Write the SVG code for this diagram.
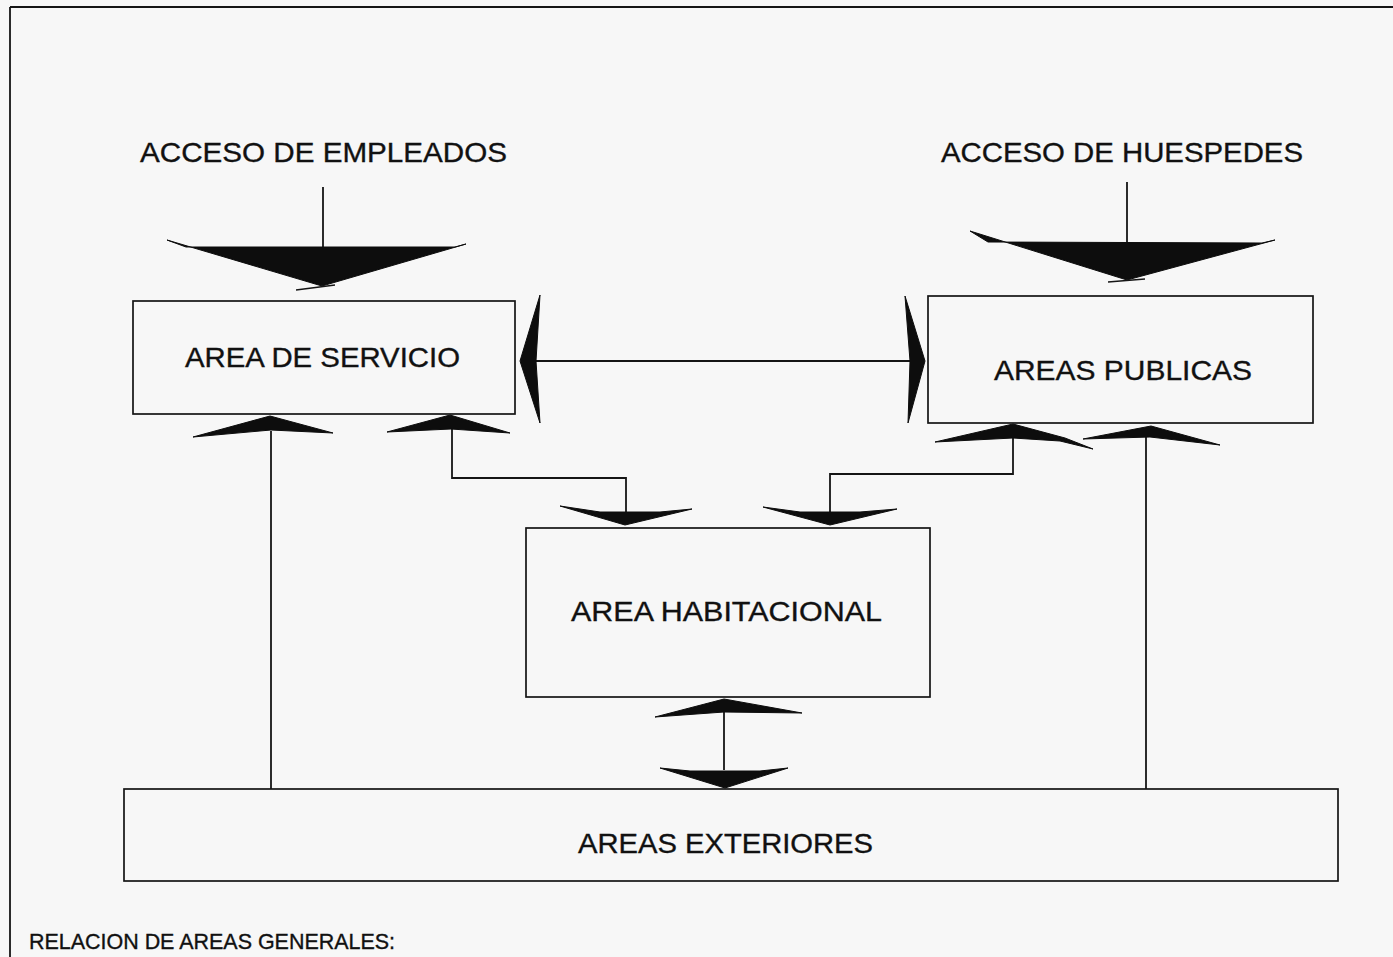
<svg xmlns="http://www.w3.org/2000/svg" width="1393" height="957" viewBox="0 0 1393 957">
  <style>
    .bg { fill: #f7f7f7; }
    .box { fill: none; stroke: #151515; stroke-width: 1.7; }
    .ln { fill: none; stroke: #151515; stroke-width: 1.8; }
    .thin { fill: none; stroke: #151515; stroke-width: 1.4; }
    .head { fill: #0d0d0d; stroke: #0d0d0d; stroke-width: 1; stroke-linejoin: miter; }
    .t { font-family: "Liberation Sans", Arial, sans-serif; fill: #111; stroke: #111; stroke-width: 0.35; }
  </style>
  <rect class="bg" x="0" y="0" width="1393" height="957"/>
  <g id="frame">
    <path class="ln" d="M10,7 H1393 M10,7 V957"/>
  </g>
  <g id="acceso-empleados">
    <text class="t" x="140" y="162" font-size="28" textLength="367" lengthAdjust="spacingAndGlyphs">ACCESO DE EMPLEADOS</text>
  </g>
  <g id="acceso-huespedes">
    <text class="t" x="941" y="162" font-size="28" textLength="362" lengthAdjust="spacingAndGlyphs">ACCESO DE HUESPEDES</text>
  </g>
  <g id="area-servicio">
    <rect class="box" x="133" y="301" width="382" height="113"/>
    <text class="t" x="185" y="367" font-size="28" textLength="275" lengthAdjust="spacingAndGlyphs">AREA DE SERVICIO</text>
  </g>
  <g id="areas-publicas">
    <rect class="box" x="928" y="296" width="385" height="127"/>
    <text class="t" x="994" y="380" font-size="28" textLength="258" lengthAdjust="spacingAndGlyphs">AREAS PUBLICAS</text>
  </g>
  <g id="area-habitacional">
    <rect class="box" x="526" y="528" width="404" height="169"/>
    <text class="t" x="571" y="621" font-size="28" textLength="311" lengthAdjust="spacingAndGlyphs">AREA HABITACIONAL</text>
  </g>
  <g id="areas-exteriores">
    <rect class="box" x="124" y="789" width="1214" height="92"/>
    <text class="t" x="578" y="853" font-size="28" textLength="295" lengthAdjust="spacingAndGlyphs">AREAS EXTERIORES</text>
  </g>
  <g id="caption">
    <text class="t" x="29" y="949" font-size="22" textLength="366" lengthAdjust="spacingAndGlyphs">RELACION DE AREAS GENERALES:</text>
  </g>
  <g id="connectors">
    <path class="ln" d="M323,187 V248"/>
    <polygon class="head" points="167,240 186,247 455,247 466,244 322,286"/>
    <path class="thin" d="M296,290 L335,285"/>
    <path class="ln" d="M1127,182 V243"/>
    <polygon class="head" points="970,231 988,242 1262,243 1275,240 1127,280"/>
    <path class="thin" d="M1108,282 L1145,279"/>
    <path class="ln" d="M536,361 H910"/>
    <polygon class="head" points="540,295 536,361 540,423 520,361"/>
    <polygon class="head" points="905,296 910,361 908,423 925,361"/>
    <path class="ln" d="M271,431 V789"/>
    <polygon class="head" points="193,437 270,416 333,433 271,430"/>
    <path class="ln" d="M452,429 V478 H626 V512"/>
    <polygon class="head" points="387,432 450,415 510,433 451,429"/>
    <polygon class="head" points="560,506 600,512 660,512 692,509 625,525"/>
    <path class="ln" d="M1013,438 V474 H830 V512"/>
    <polygon class="head" points="935,442 1013,424 1065,438 1093,449 1060,441 1013,438"/>
    <polygon class="head" points="763,507 800,512 860,512 897,509 830,525"/>
    <path class="ln" d="M1146,437 V789"/>
    <polygon class="head" points="1083,439 1151,426 1220,445 1150,437"/>
    <path class="ln" d="M724,712 V770"/>
    <polygon class="head" points="655,717 724,699 802,713 724,712"/>
    <polygon class="head" points="660,768 690,771 760,771 788,768 725,788"/>
  </g>
</svg>
